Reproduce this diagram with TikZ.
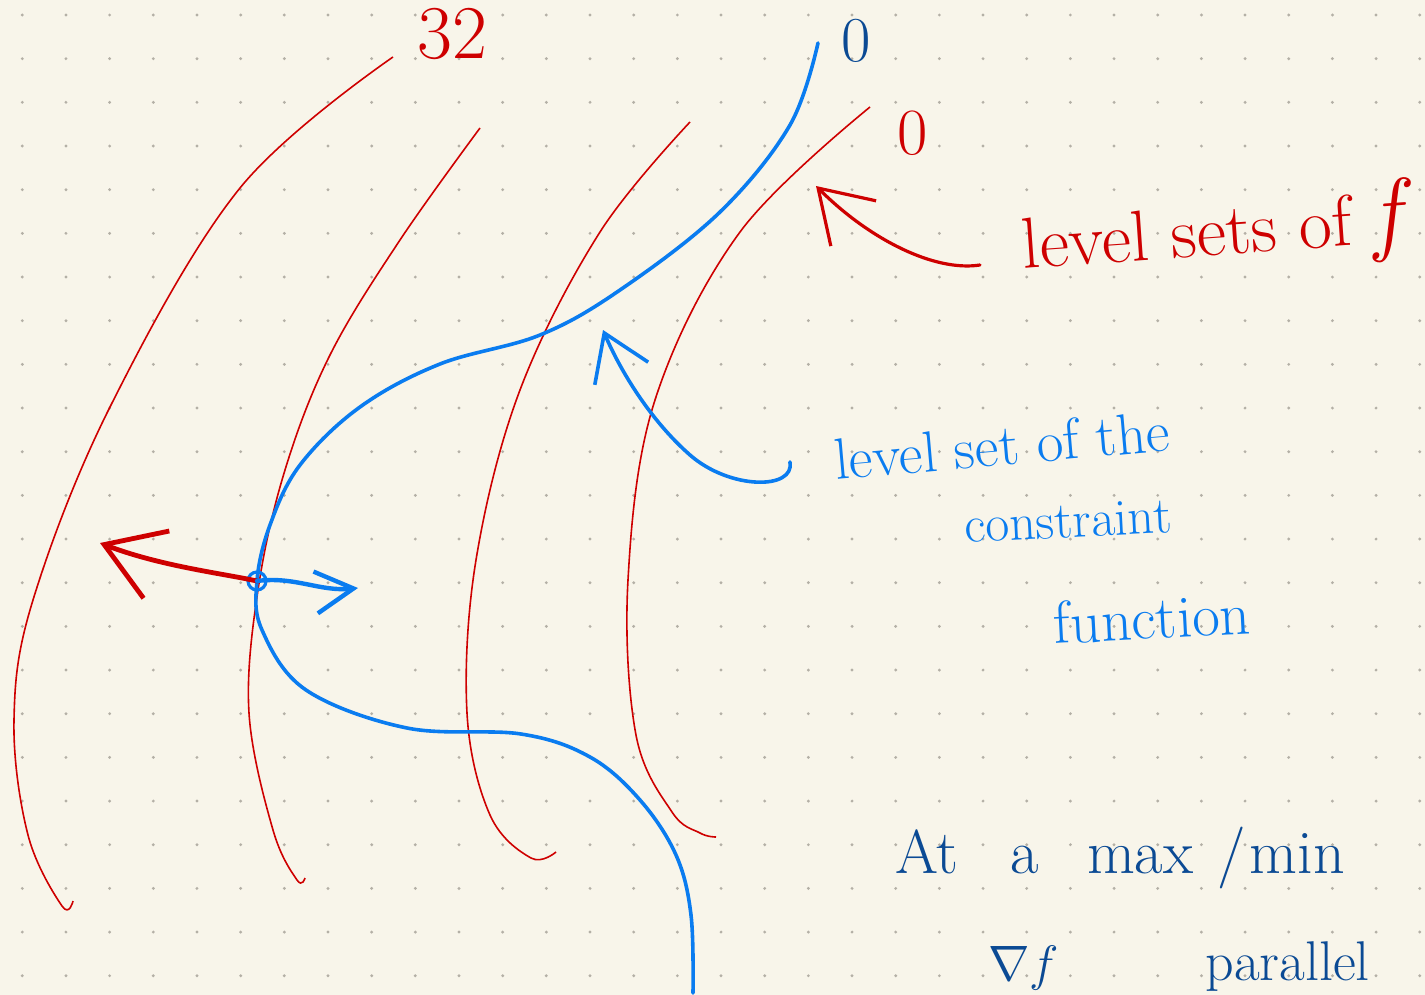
\documentclass[tikz,border=0pt]{standalone}
\usepackage{amsmath}
\usepackage{tikz}
\usetikzlibrary{calc,positioning,arrows.meta}

\definecolor{paper}{HTML}{F8F5EA}
\definecolor{dotgray}{HTML}{B4B0A6}
\definecolor{penred}{HTML}{CE0000}
\definecolor{penblue}{HTML}{0A7CF0}
\definecolor{inkblue}{HTML}{0B4A94}

\begin{document}
\begin{tikzpicture}[x=0.5pt, y=-0.5pt]
\tikzstyle{lvl}=[draw=penred, line width=0.8pt]
\tikzstyle{cstr}=[draw=penblue, line width=1.8pt, line cap=round]
\tikzstyle{gradf}=[penred, line width=2.4pt, line cap=round, -{Straight Barb[length=28pt, width=36pt]}]
\tikzstyle{gradg}=[penblue, line width=2.2pt, line cap=round, -{Straight Barb[length=19pt, width=21pt]}]
\tikzstyle{ptrred}=[penred, line width=1.6pt, line cap=round, -{Straight Barb[length=25pt, width=32pt]}]
\tikzstyle{ptrblue}=[penblue, line width=1.8pt, line cap=round, -{Straight Barb[length=22pt, width=29pt]}]
\tikzstyle{redtxt}=[text=penred, inner sep=0pt]
\tikzstyle{bluetxt}=[text=penblue, inner sep=0pt]
\tikzstyle{inktxt}=[text=inkblue, inner sep=0pt]

% paper and dots
\fill[paper] (0,0) rectangle (1425,995);
\useasboundingbox (0,0) rectangle (1425,995);
\foreach \i in {0,...,32}
  \foreach \j in {0,...,22}
    \fill[dotgray] ({22.3+43.67*\i},{15+43.67*\j}) circle (0.8pt);

% labels
\node[redtxt, font=\fontsize{38}{40}\selectfont] (n32) at (452,34) {32};
\node[inktxt, font=\fontsize{32}{34}\selectfont] (zb) at (856,41) {0};
\node[redtxt, font=\fontsize{33}{35}\selectfont] (zr) at (913,133) {0};
\node[redtxt, font=\fontsize{36}{38}\selectfont, rotate=4] (lsf) at (1218,232) {level sets of {\fontsize{46}{48}\selectfont\textit{f}}};
\node[bluetxt, font=\fontsize{29}{31}\selectfont, rotate=5] (ls1) at (1002,445) {level set of the};
\node[bluetxt, font=\fontsize{26}{28}\selectfont, rotate=3] (ls2) at (1068,521) {constraint};
\node[bluetxt, font=\fontsize{30}{32}\selectfont, rotate=3] (ls3) at (1152,618) {function};
\node[inktxt, font=\fontsize{31}{33}\selectfont, anchor=base west] (amm) at (895,873) {At\hspace{26pt}a\hspace{24pt}max\hspace{12pt}/\hspace{2pt}min};
\node[inktxt, font=\fontsize{28}{30}\selectfont, anchor=base west] (nf) at (988,980) {$\nabla f$};
\node[inktxt, font=\fontsize{28}{30}\selectfont, anchor=base west] (par) at (1205,980) {parallel};

% level sets of f
\coordinate (a1) at (393,57);
\coordinate (a2) at (480,128);
\coordinate (a3) at (690,122);
\coordinate (a4) at (870,107);
\draw[lvl] plot[smooth, tension=0.6] coordinates {(a1) (240,188) (110,407) (33,600) (14,720) (28,835) (62,906) (73,901)};
\draw[lvl] plot[smooth, tension=0.6] coordinates {(a2) (400,240) (330,355) (285,470) (258,590) (249,713) (273,830) (297,880) (305,878)};
\draw[lvl] plot[smooth, tension=0.6] coordinates {(a3) (600,232) (520,390) (476,560) (467,713) (490,815) (531,858) (556,852)};
\draw[lvl] plot[smooth, tension=0.6] coordinates {(a4) (740,232) (655,400) (628,580) (636,735) (672,812) (700,833) (716,837)};

% level set of the constraint
\coordinate (P) at (257,581);
\coordinate (b1) at (818,43);
\coordinate (b2) at (693,993);
\draw[cstr] plot[smooth, tension=0.6] coordinates {(b1) (790,125) (720,212) (620,290) (540,335) (440,364) (360,407) (300,465) (270,525) (P) (262,630) (306,690) (407,728) (521,734) (590,757) (640,800) (676,855) (691,915) (b2)};
\draw[penblue, line width=1.6pt] (P) circle (9);

% gradients
\coordinate (gf) at (100,543);
\coordinate (gg) at (358,588);
\draw[gradf] (P) .. controls (220,573) and (160,566) .. (gf);
\draw[gradg] (P) .. controls (295,576) and (320,592) .. (gg);

% pointers
\coordinate (pr) at (816,186);
\coordinate (pb) at (603,330);
\draw[ptrred] (980,265) .. controls (935,272) and (870,240) .. (pr);
\draw[ptrblue] (790,462) .. controls (795,490) and (730,490) .. (690,455) .. controls (650,420) and (620,370) .. (pb);
\end{tikzpicture}
\end{document}
